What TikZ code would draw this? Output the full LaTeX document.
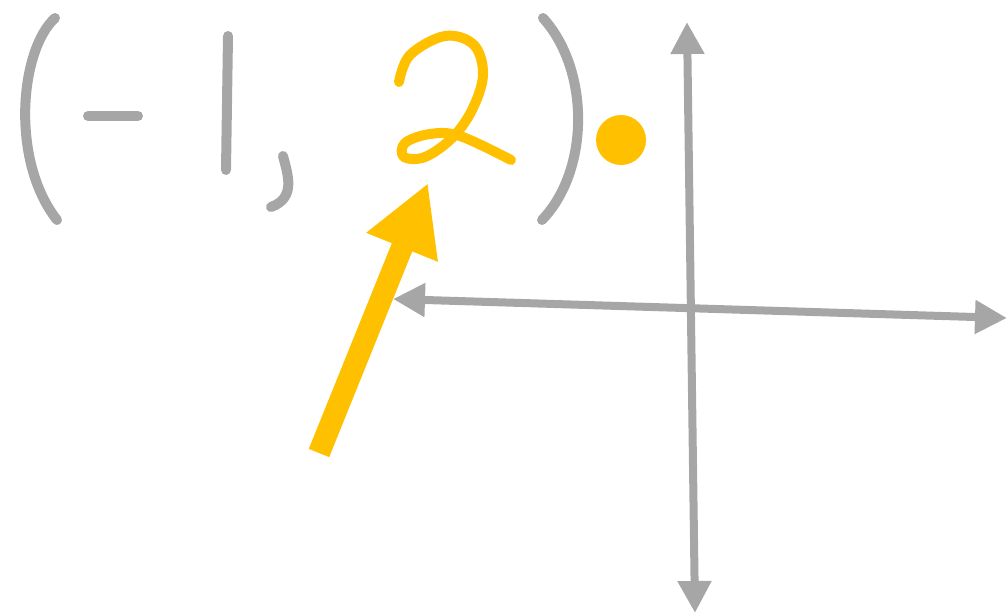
\documentclass[tikz,border=0pt]{standalone}
\usetikzlibrary{arrows.meta}
\definecolor{sketchgray}{HTML}{A6A6A6}
\definecolor{sketchgold}{HTML}{FFC000}
\tikzset{
  pen/.style={draw=sketchgray, line width=7.5pt, line cap=round, line join=round},
  goldpen/.style={draw=sketchgold, line width=7.5pt, line cap=round, line join=round},
  axis/.style={draw=sketchgray, line width=6pt, {Triangle[length=24pt,width=24pt]}-{Triangle[length=24pt,width=24pt]}},
  pointer/.style={draw=sketchgold, line width=16.5pt, -{Triangle[length=52pt,width=54pt]}}
}
\begin{document}
\begin{tikzpicture}[x=0.75pt,y=-0.75pt]
\useasboundingbox (0,0) rectangle (1008,615);
% left parenthesis
\draw[pen] (55,18) .. controls (20,50) and (10,160) .. (57,220);
% minus
\draw[pen] (88,116) -- (138,116);
% one
\draw[pen] (228,36) -- (226,170);
% comma
\draw[pen] (283,156) .. controls (288,175) and (296,198) .. (271,207);
% two
\draw[goldpen] plot[smooth, tension=0.6] coordinates {(399,82) (410,55) (445,36) (474,45) (483,75) (472,110) (452,138) (425,157) (404,157) (405,143) (430,134) (460,136) (511,160)};
% right parenthesis
\draw[pen] (543,18) .. controls (590,70) and (590,170) .. (542,220);
% point
\fill[sketchgold] (621,140) circle[radius=18.75pt];
% axes
\coordinate (ytop) at (687,22);
\coordinate (ybot) at (695,613);
\coordinate (xleft) at (393,299);
\coordinate (xright) at (1007,318);
\draw[axis] (ybot) -- (ytop);
\draw[axis] (xleft) -- (xright);
% pointer arrow
\coordinate (tail) at (319,453);
\coordinate (tip) at (428,183);
\draw[pointer] (tail) -- (tip);
\end{tikzpicture}
\end{document}
